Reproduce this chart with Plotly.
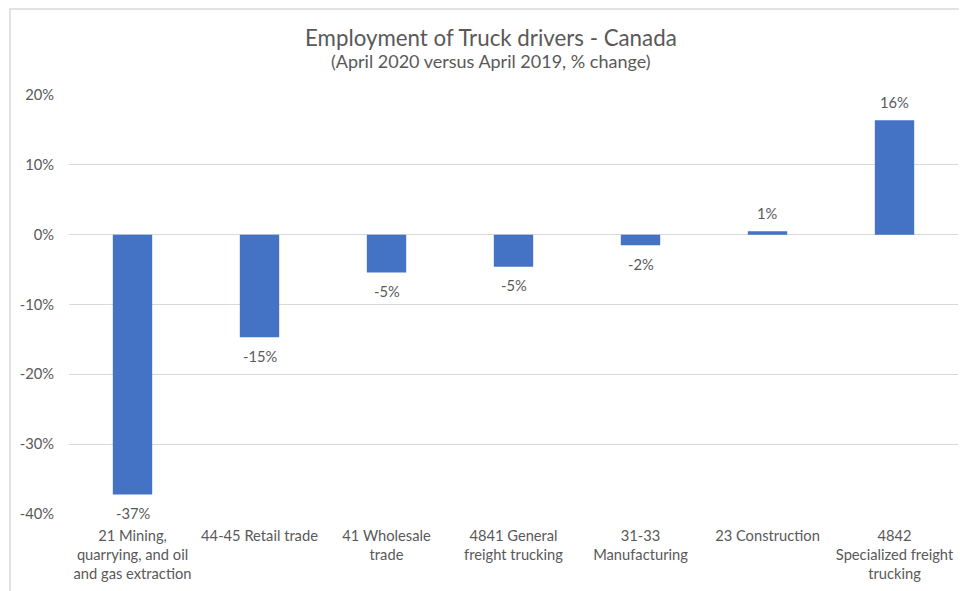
import plotly.graph_objects as go

categories = [
    "21 Mining,<br>quarrying, and oil<br>and gas extraction",
    "44-45 Retail trade",
    "41 Wholesale<br>trade",
    "4841 General<br>freight trucking",
    "31-33<br>Manufacturing",
    "23 Construction",
    "4842<br>Specialized freight<br>trucking",
]
values = [-37.2, -14.7, -5.4, -4.6, -1.5, 0.5, 16.4]
labels = ["-37%", "-15%", "-5%", "-5%", "-2%", "1%", "16%"]
tick_vals = [20, 10, 0, -10, -20, -30, -40]
tick_text = ["20%", "10%", "0%", "-10%", "-20%", "-30%", "-40%"]

FONT = "Lato"
GRAY = "#595959"
FS = 14.7

# page body has an 8px margin, so the figure is laid out offset by (-8, -8)
OFF = 8
W, H = 967, 591
L, T = 69 - OFF, 95 - OFF
R, B = W - (958 - OFF), H - (514 - OFF)
pw, ph = W - L - R, H - T - B

fig = go.Figure(
    go.Bar(
        x=categories,
        y=values,
        marker=dict(color="#4472C4", line=dict(width=0)),
        hoverinfo="skip",
    )
)

for c, v, lab in zip(categories, values, labels):
    fig.add_annotation(
        x=c, y=v, xref="x", yref="y", text=lab, showarrow=False,
        yshift=18.5 if v >= 0 else -18.5, yanchor="middle", xanchor="center",
        font=dict(family=FONT, size=FS, color=GRAY),
    )

fig.update_layout(
    width=W,
    height=H,
    margin=dict(l=L, r=R, t=T, b=B, pad=0, autoexpand=False),
    paper_bgcolor="white",
    plot_bgcolor="white",
    bargap=0.69,
    showlegend=False,
    font=dict(family=FONT, size=FS, color=GRAY),
)

fig.update_yaxes(
    range=[-40, 20],
    tickvals=tick_vals,
    ticktext=tick_text,
    showgrid=True,
    gridcolor="#d9d9d9",
    gridwidth=1,
    zeroline=True,
    zerolinecolor="#d9d9d9",
    zerolinewidth=1,
    showline=False,
    ticks="",
    automargin=False,
    ticklabelstandoff=14,
    tickfont=dict(family=FONT, size=FS, color=GRAY),
)
fig.update_xaxes(
    showgrid=False,
    showline=False,
    ticks="",
    automargin=False,
    tickfont=dict(family=FONT, size=FS, color=GRAY),
    ticklabelstandoff=11,
)

tx = (491 - OFF - L) / pw
fig.add_annotation(
    x=tx, y=1 + (T - (38 - OFF)) / ph, xref="paper", yref="paper",
    text="Employment of Truck drivers - Canada", showarrow=False,
    font=dict(family=FONT, size=22.3, color=GRAY), xanchor="center", yanchor="middle",
)
fig.add_annotation(
    x=tx, y=1 + (T - (61 - OFF)) / ph, xref="paper", yref="paper",
    text="(April 2020 versus April 2019, % change)", showarrow=False,
    font=dict(family=FONT, size=18, color=GRAY), xanchor="center", yanchor="middle",
)

# outer chart border (left edge at page x=10, top at the very top of the figure)
fig.add_shape(
    type="rect", xref="paper", yref="paper",
    x0=(10 - OFF - L) / pw, x1=(W + 5 - L) / pw,
    y0=-(H + 5 - (T + ph)) / ph, y1=1 + (T - 1) / ph,
    line=dict(color="#d9d9d9", width=1.5), fillcolor="rgba(0,0,0,0)", layer="below",
)

fig.write_html("out.html")
